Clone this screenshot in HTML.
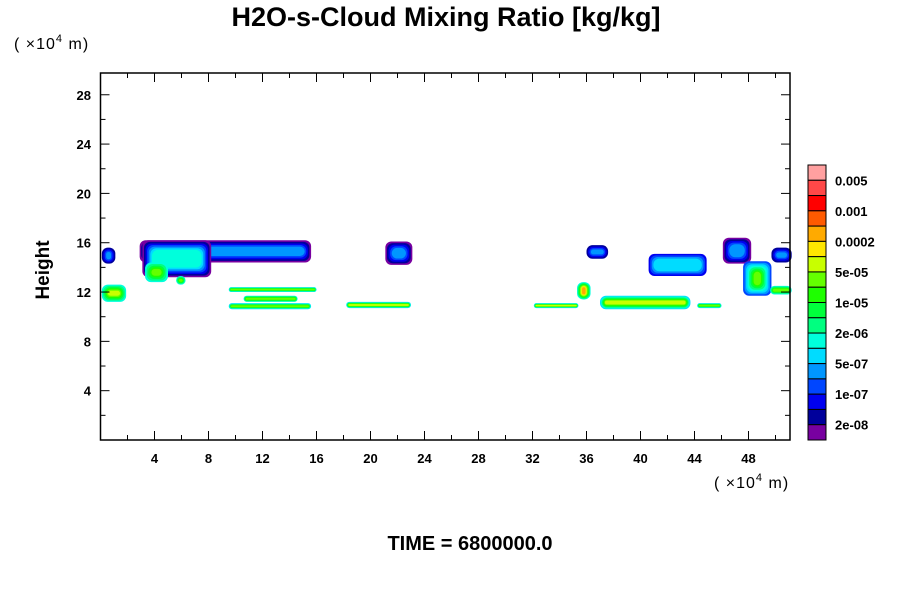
<!DOCTYPE html>
<html><head><meta charset="utf-8"><style>
body{margin:0;background:#fff}
svg text{font-family:"Liberation Sans",sans-serif}
</style></head><body>
<svg id="c" width="900" height="600" xmlns="http://www.w3.org/2000/svg">
<text x="446" y="26" text-anchor="middle" font-size="27" font-weight="bold">H2O-s-Cloud Mixing Ratio [kg/kg]</text>
<text x="14" y="49" font-size="16" letter-spacing="1">( ×10<tspan font-size="11" dy="-7">4</tspan><tspan dy="7">  m)</tspan></text>
<text x="714" y="488" font-size="16" letter-spacing="1">( ×10<tspan font-size="11" dy="-7">4</tspan><tspan dy="7">  m)</tspan></text>
<text transform="translate(49,270) rotate(-90)" text-anchor="middle" font-size="19" font-weight="bold">Height</text>
<text x="470" y="550" text-anchor="middle" font-size="20" font-weight="bold">TIME = 6800000.0</text>
<g id="plot"></g>
<g id="axes"></g>
<g id="cbar"></g>
</svg>
<script>
const colors=["#ffa0a0","#ff4848","#ff0000","#ff5a00","#ffaa00","#ffe600","#c8ff00","#64ff00","#1eff00","#00ff3c","#00ff80","#00ffdc","#00dcff","#0096ff","#0046ff","#0000f0","#00009b","#7800a0"];
const cbarLabels=["0.005","0.001","0.0002","5e-05","1e-05","2e-06","5e-07","1e-07","2e-08"];
const xTicks=[4,8,12,16,20,24,28,32,36,40,44,48];
const yTicks=[4,8,12,16,20,24,28];
// blobs: x0,x1,y0,y1,outerLevel,innerLevel
const blobs=[
[0.1,1.1,14.3,15.6,16,13],
[2.9,15.6,14.4,16.2,17,13],
[3.1,8.2,13.2,16.2,17,11],
[3.3,5.0,12.8,14.4,11,7],
[21.1,23.1,14.2,16.1,17,13],
[36.0,37.6,14.7,15.8,16,13],
[40.6,44.9,13.3,15.1,15,12],
[46.1,48.2,14.3,16.4,17,13],
[49.7,51.2,14.4,15.6,16,13],
[47.6,49.7,11.7,14.5,14,7],
[49.6,51.2,11.8,12.5,11,7],
[9.5,16.0,12.0,12.4,12,7],
[10.6,14.6,11.2,11.7,11,7],
[9.5,15.6,10.6,11.1,12,7],
[18.2,23.0,10.7,11.2,12,6],
[32.1,35.4,10.7,11.1,12,6],
[35.3,36.3,11.4,12.8,11,4],
[37.0,43.7,10.6,11.7,12,6],
[44.2,46.0,10.7,11.1,12,7],
[0.1,1.9,11.2,12.6,11,6],
[5.6,6.3,12.6,13.3,11,7]
];
const X=v=>100.5+v*13.5, Y=v=>440-v*12.33;
const ns="http://www.w3.org/2000/svg";
function mk(t,a,p){const e=document.createElementNS(ns,t);for(const k in a)e.setAttribute(k,a[k]);p.appendChild(e);return e;}
const plot=document.getElementById('plot'),axes=document.getElementById('axes'),cb=document.getElementById('cbar');
blobs.forEach((b,bi)=>{
  const x0=X(b[0]),x1=X(b[1]),y0=Y(b[3]),y1=Y(b[2]);
  const n=b[4]-b[5]+1, half=Math.min(x1-x0,y1-y0)/2;
  for(let k=0;k<n;k++){
    const ins=Math.min(k*1.6, half*0.85*k/n);
    const r=mk('rect',{x:x0+ins,y:y0+ins,width:Math.max(1,x1-x0-2*ins),height:Math.max(1,y1-y0-2*ins),rx:Math.min(6,Math.max(1,half-ins)),fill:colors[b[4]-k]},plot);
    
    
  }
});
const fr=mk('rect',{x:X(0),y:73,width:790-X(0),height:440-73,fill:'none',stroke:'#000','stroke-width':1.5},axes);


for(let v=2;v<=50;v+=2){
  const major=v%4===0;
  const l=mk('line',{x1:X(v),x2:X(v),y1:440,y2:440-(major?9:5),stroke:'#000'},axes);
  
  
  const l2=mk('line',{x1:X(v),x2:X(v),y1:73,y2:73+(major?9:5),stroke:'#000'},axes);
  
  
}
for(let v=2;v<=28;v+=2){
  const major=v%4===0;
  const l=mk('line',{x1:X(0),x2:X(0)+(major?9:5),y1:Y(v),y2:Y(v),stroke:'#000'},axes);
  
  
  const l2=mk('line',{x1:790,x2:790-(major?9:5),y1:Y(v),y2:Y(v),stroke:'#000'},axes);
  
  
}
xTicks.forEach(v=>{const t=mk('text',{x:X(v),y:463,'text-anchor':'middle','font-size':13,'font-weight':'bold'},axes);t.textContent=v;
  
  });
yTicks.forEach(v=>{const t=mk('text',{x:91,y:Y(v)+5,'text-anchor':'end','font-size':13,'font-weight':'bold'},axes);t.textContent=v;
  
  });
const bh=(440-165)/colors.length;
colors.forEach((c,i)=>{const r=mk('rect',{x:808,y:165+i*bh,width:18,height:bh,fill:c,stroke:'#000','stroke-width':1},cb);
  
  });
cbarLabels.forEach((s,i)=>{const t=mk('text',{x:835,y:165+(2*i+1)*bh+5,'font-size':13,'font-weight':'bold'},cb);t.textContent=s;
  
  });
</script>
</body></html>
